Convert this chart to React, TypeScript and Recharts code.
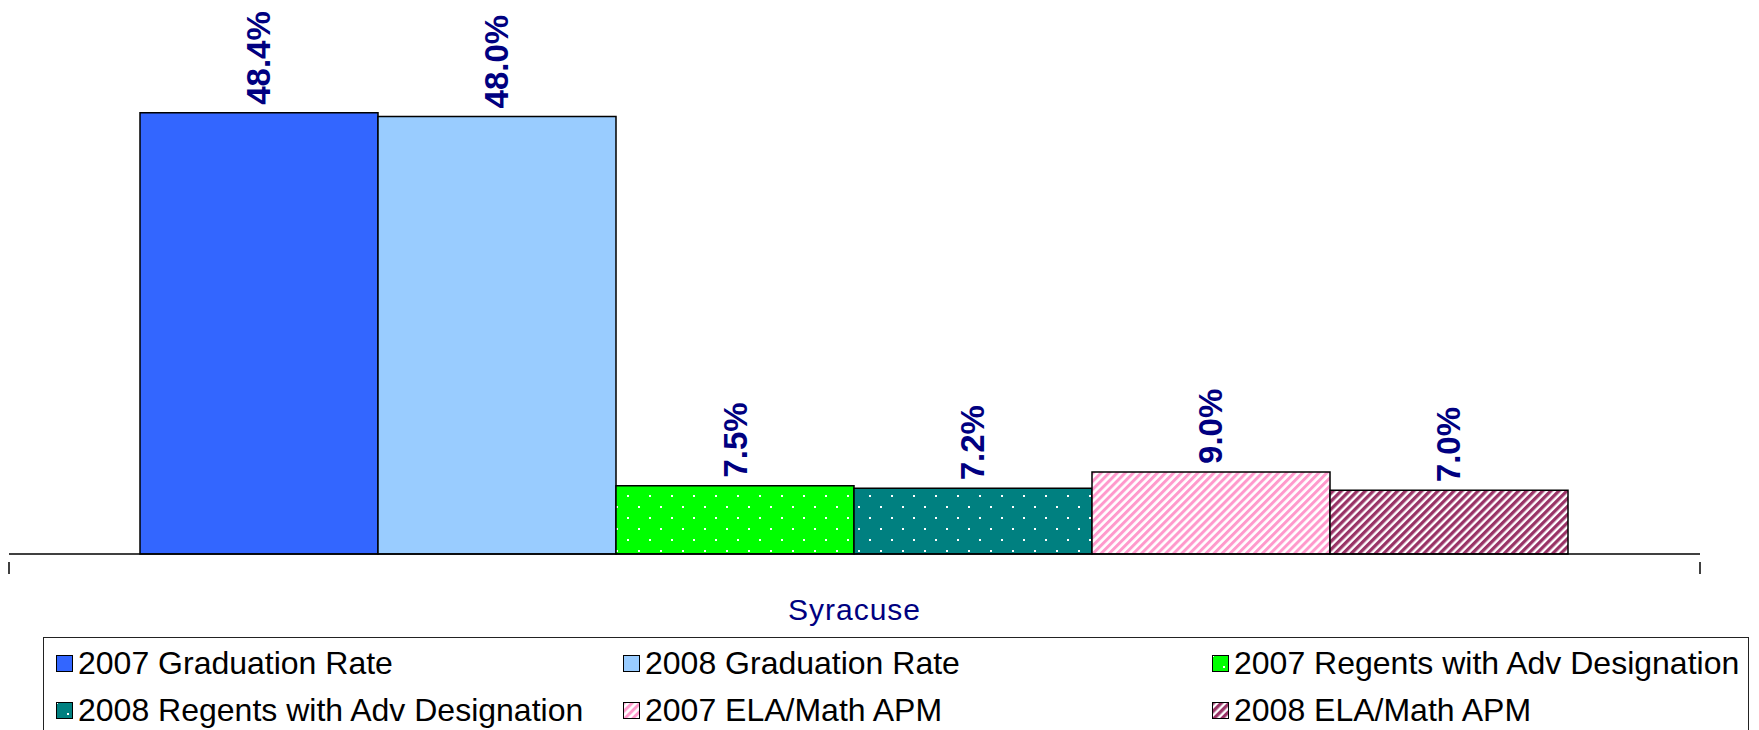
import React from 'react';
import { BarChart, Bar, XAxis, YAxis, LabelList } from 'recharts';

// categories and series
const categories = ['Syracuse'];
const seriesNames = [
  '2007 Graduation Rate',
  '2008 Graduation Rate',
  '2007 Regents with Adv Designation',
  '2008 Regents with Adv Designation',
  '2007 ELA/Math APM',
  '2008 ELA/Math APM',
];
const grad2007 = [48.4];
const grad2008 = [48.0];
const regents2007 = [7.5];
const regents2008 = [7.2];
const apm2007 = [9.0];
const apm2008 = [7.0];

const seriesValues = [grad2007, grad2008, regents2007, regents2008, apm2007, apm2008];
const seriesFills = [
  '#3366FF',
  '#99CCFF',
  'url(#dotsGreen)',
  'url(#dotsTeal)',
  'url(#stripesPink)',
  'url(#stripesMaroon)',
];

const data = categories.map((name, i) => {
  const row: Record<string, string | number> = { name };
  seriesNames.forEach((s, k) => {
    row[s] = seriesValues[k][i];
  });
  return row;
});

const FONT = 'Arial, "Liberation Sans", sans-serif';

const Patterns = () => (
  <defs>
    <pattern id="dotsGreen" patternUnits="userSpaceOnUse" width={22} height={22}>
      <rect width={22} height={22} fill="#00FF00" />
      <rect x={0} y={0} width={2} height={2} fill="#fff" />
      <rect x={11} y={11} width={2} height={2} fill="#fff" />
    </pattern>
    <pattern id="dotsTeal" patternUnits="userSpaceOnUse" width={22} height={22}>
      <rect width={22} height={22} fill="#008080" />
      <rect x={0} y={0} width={2} height={2} fill="#fff" />
      <rect x={11} y={11} width={2} height={2} fill="#fff" />
    </pattern>
    <pattern id="stripesPink" patternUnits="userSpaceOnUse" width={5.7} height={5.7} patternTransform="rotate(45)">
      <rect width={5.7} height={5.7} fill="#fff" />
      <rect width={3} height={5.7} fill="#FF99CC" />
    </pattern>
    <pattern id="stripesMaroon" patternUnits="userSpaceOnUse" width={5.7} height={5.7} patternTransform="rotate(45)">
      <rect width={5.7} height={5.7} fill="#fff" />
      <rect width={3.3} height={5.7} fill="#993366" />
    </pattern>
  </defs>
);

const renderValueLabel = (props: any) => {
  const { x, y, width, value } = props;
  const cx = Number(x) + Number(width) / 2;
  const ty = Number(y) - 8;
  return (
    <text
      x={cx}
      y={ty}
      transform={`rotate(-90 ${cx} ${ty})`}
      textAnchor="start"
      dominantBaseline="central"
      fill="#000080"
      fontWeight="bold"
      fontSize={33}
      fontFamily={FONT}
    >
      {Number(value).toFixed(1)}%
    </text>
  );
};

// category label plus tick marks at the category edges
const CategoryTick = (props: any) => {
  const { x, y, payload } = props;
  const half = payload && payload.offset ? payload.offset : 0;
  return (
    <g>
      {half > 0 && (
        <>
          <line x1={x - half} y1={y} x2={x - half} y2={y + 12} stroke="#000" strokeWidth={1.5} />
          <line x1={x + half} y1={y} x2={x + half} y2={y + 12} stroke="#000" strokeWidth={1.5} />
        </>
      )}
      <text
        x={x}
        y={y + 58}
        textAnchor="middle"
        fill="#000080"
        fontSize={30}
        fontFamily={FONT}
        letterSpacing={1}
      >
        {payload.value}
      </text>
    </g>
  );
};

const Swatch = ({ fill }: { fill: string }) => (
  <svg width={17} height={17} style={{ display: 'block', flex: 'none' }}>
    <rect x={0.5} y={0.5} width={16} height={16} fill={fill} stroke="#000" strokeWidth={1} />
  </svg>
);

const ChartLegend = () => (
  <div
    style={{
      position: 'absolute',
      left: 43,
      top: 637,
      width: 1706,
      height: 120,
      border: '1px solid #222',
      background: '#fff',
      display: 'grid',
      gridTemplateColumns: '567px 589px 1fr',
      gridAutoRows: '47px',
      paddingTop: 2,
      paddingLeft: 12,
      boxSizing: 'border-box',
      fontFamily: FONT,
      fontSize: 32,
      color: '#000',
    }}
  >
    {seriesNames.map((s, k) => (
      <div key={s} style={{ display: 'flex', alignItems: 'center', whiteSpace: 'nowrap' }}>
        <Swatch fill={seriesFills[k]} />
        <span style={{ marginLeft: 5 }}>{s}</span>
      </div>
    ))}
  </div>
);

export default function App() {
  return (
    <div style={{ position: 'fixed', left: 0, top: 0, width: 1759, height: 730, background: '#fff', overflow: 'hidden' }}>
      <BarChart
        width={1759}
        height={730}
        data={data}
        margin={{ top: 7, right: 59, left: 9, bottom: 116 }}
        barCategoryGap={131}
        barGap={0}
      >
        <Patterns />
        <XAxis
          dataKey="name"
          height={60}
          axisLine={{ stroke: '#000', strokeWidth: 1.5 }}
          tickLine={false}
          tick={<CategoryTick />}
          interval={0}
        />
        <YAxis hide domain={[0, 60]} />
        {seriesNames.map((s, k) => (
          <Bar key={s} dataKey={s} fill={seriesFills[k]} stroke="#000" strokeWidth={1.5} isAnimationActive={false}>
            <LabelList dataKey={s} content={renderValueLabel} />
          </Bar>
        ))}
      </BarChart>
      <ChartLegend />
    </div>
  );
}
